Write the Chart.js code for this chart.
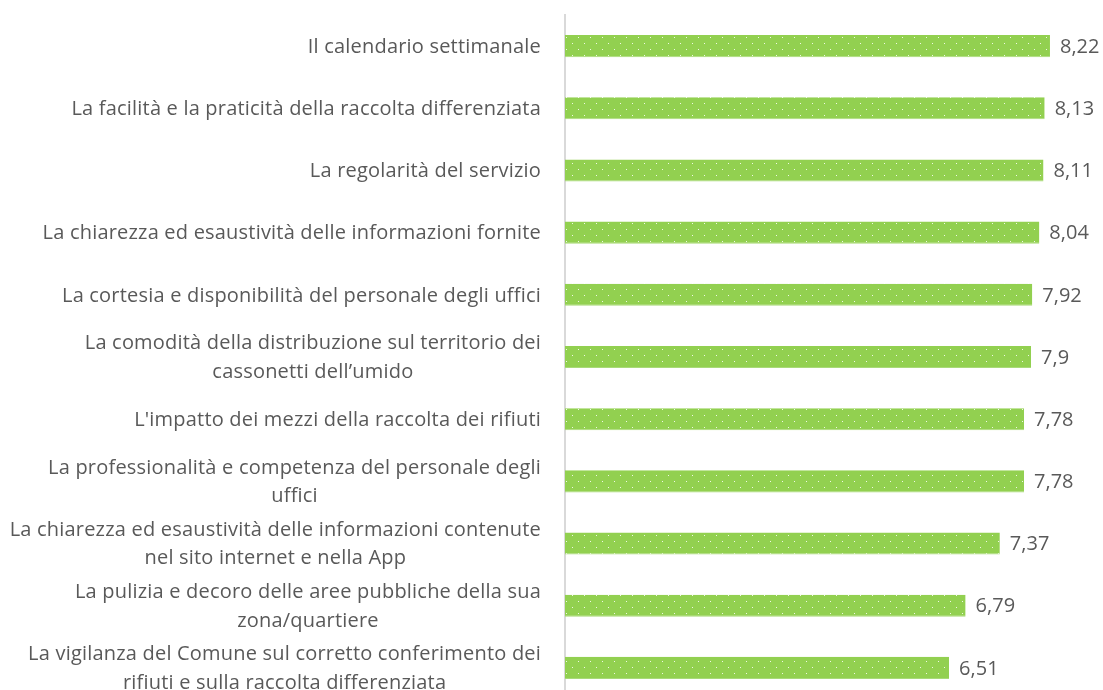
<!DOCTYPE html>
<html>
<head>
<meta charset="utf-8">
<script src="https://cdn.jsdelivr.net/npm/chart.js@4"></script>
<style>
  html, body { margin: 0; padding: 0; background: #fff; overflow: hidden; }
  #wrap { width: 1103px; height: 712px; position: relative; }
</style>
</head>
<body>
<div id="wrap"><canvas id="grafico"></canvas></div>
<script>
const voci = [
    ["Il calendario settimanale"],
    ["La facilità e la praticità della raccolta differenziata"],
    ["La regolarità del servizio"],
    ["La chiarezza ed esaustività delle informazioni fornite"],
    ["La cortesia e disponibilità del personale degli uffici"],
    ["La comodità della distribuzione sul territorio dei", "cassonetti dell’umido"],
    ["L'impatto dei mezzi della raccolta dei rifiuti"],
    ["La professionalità e competenza del personale degli", "uffici"],
    ["La chiarezza ed esaustività delle informazioni contenute", "nel sito internet e nella App"],
    ["La pulizia e decoro delle aree pubbliche della sua", "zona/quartiere"],
    ["La vigilanza del Comune sul corretto conferimento dei", "rifiuti e sulla raccolta differenziata"]
];
const punteggi = [8.22, 8.13, 8.11, 8.04, 7.92, 7.9, 7.78, 7.78, 7.37, 6.79, 6.51];
const etichetteValori = ["8,22", "8,13", "8,11", "8,04", "7,92", "7,9", "7,78", "7,78", "7,37", "6,79", "6,51"];

const FONT = "'Open Sans', 'Liberation Sans', sans-serif";
const GRIGIO = "#595959";

// trama a puntini bianchi su verde
function creaTrama(ctx) {
    const t = document.createElement("canvas");
    t.width = 12;
    t.height = 12;
    const c = t.getContext("2d");
    c.fillStyle = "#92d050";
    c.fillRect(0, 0, 12, 12);
    c.fillStyle = "rgba(255,255,255,0.85)";
    c.fillRect(2, 1, 1, 1);
    c.fillRect(8, 7, 1, 1);
    return ctx.createPattern(t, "repeat");
}

// etichette delle categorie: blocco allineato a destra, righe centrate fra loro
const etichetteCategorie = {
    id: "etichetteCategorie",
    afterDraw(chart) {
        const ctx = chart.ctx;
        const y = chart.scales.y;
        const destra = chart.chartArea.left - 24;
        const interlinea = 28.5;
        ctx.save();
        ctx.font = "20px " + FONT;
        ctx.letterSpacing = "0.2px";
        ctx.fillStyle = GRIGIO;
        ctx.textBaseline = "middle";
        ctx.textAlign = "center";
        voci.forEach((righe, i) => {
            const centroY = y.getPixelForValue(i) + 1;
            const larghezza = Math.max(...righe.map(r => ctx.measureText(r).width));
            const centroX = destra - larghezza / 2;
            const inizio = centroY - (righe.length - 1) * interlinea / 2;
            righe.forEach((r, k) => ctx.fillText(r, centroX, inizio + k * interlinea));
        });
        ctx.restore();
    }
};

// valori a destra delle barre
const etichetteBarre = {
    id: "etichetteBarre",
    afterDatasetsDraw(chart) {
        const ctx = chart.ctx;
        const meta = chart.getDatasetMeta(0);
        ctx.save();
        ctx.font = "20px " + FONT;
        ctx.fillStyle = GRIGIO;
        ctx.textBaseline = "middle";
        ctx.textAlign = "left";
        meta.data.forEach((barra, i) => {
            ctx.fillText(etichetteValori[i], barra.x + 10, barra.y + 1);
        });
        ctx.restore();
    }
};

document.addEventListener("DOMContentLoaded", () => {
    const ctx = document.getElementById("grafico").getContext("2d");
    new Chart(ctx, {
        type: "bar",
        data: {
            labels: voci,
            datasets: [{
                data: punteggi,
                backgroundColor: creaTrama(ctx),
                borderColor: "#a8da78",
                borderWidth: { bottom: 1 },
                borderSkipped: false,
                barPercentage: 0.355,
                categoryPercentage: 1
            }]
        },
        options: {
            indexAxis: "y",
            responsive: true,
            maintainAspectRatio: false,
            animation: false,
            layout: { padding: { top: 15, bottom: 13, right: 7, left: 0 } },
            plugins: {
                legend: { display: false },
                tooltip: { enabled: false }
            },
            scales: {
                x: {
                    display: false,
                    min: 0,
                    max: 9
                },
                y: {
                    grid: { display: false, drawTicks: false },
                    ticks: { display: false },
                    border: { color: "#d9d9d9", width: 2 },
                    afterFit: (scale) => { scale.width = 565; }
                }
            }
        },
        plugins: [etichetteCategorie, etichetteBarre]
    });
});
</script>
</body>
</html>
